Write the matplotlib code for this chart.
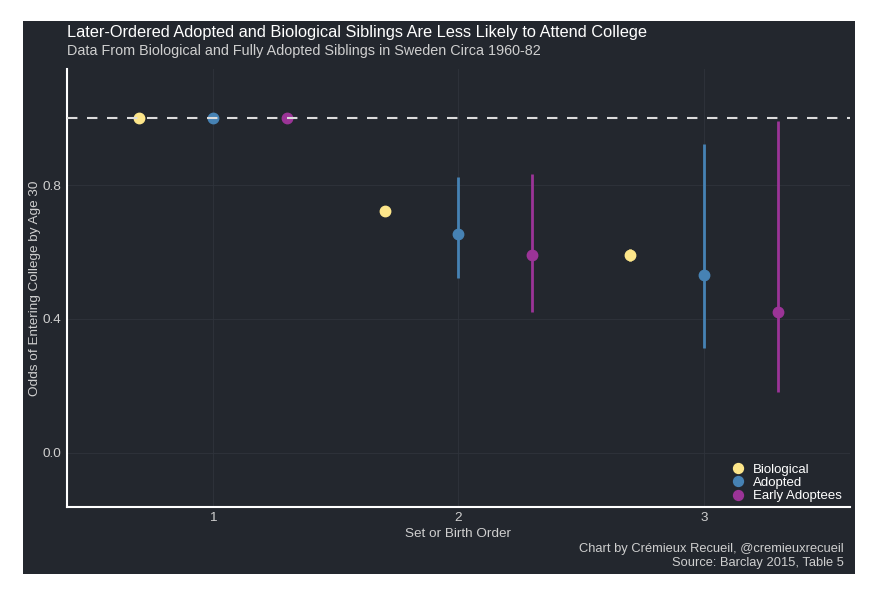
import numpy as np
import matplotlib.pyplot as plt
from matplotlib.patches import Rectangle

plt.rcParams['font.family'] = ['Liberation Sans', 'DejaVu Sans']

# data: odds ratios relative to first-born / first set
orders = [1, 2, 3]
groups = ['Biological', 'Adopted', 'Early Adoptees']
colors = ['#FDE68A', '#4682B4', '#9B3497']
offsets = [-0.3, 0.0, 0.3]

estimate = {
    'Biological':     [1.0, 0.723, 0.591],
    'Adopted':        [1.0, 0.653, 0.531],
    'Early Adoptees': [1.0, 0.591, 0.421],
}
lower = {
    'Biological':     [np.nan, 0.712, 0.573],
    'Adopted':        [np.nan, 0.523, 0.312],
    'Early Adoptees': [np.nan, 0.421, 0.181],
}
upper = {
    'Biological':     [np.nan, 0.732, 0.610],
    'Adopted':        [np.nan, 0.823, 0.923],
    'Early Adoptees': [np.nan, 0.833, 0.993],
}

bg = '#23272e'
grid = '#2f343c'
txt = '#cfcfcf'

fig = plt.figure(figsize=(8.8, 6.05), dpi=100, facecolor='white')
fig.patches.append(Rectangle((23/880, 1-574/605), (855-23)/880, (574-21)/605,
                             transform=fig.transFigure, facecolor=bg, edgecolor='none', zorder=-10))

ax = fig.add_axes([66.7/880, 1-506.7/605, (850-66.7)/880, (506.7-69)/605])
ax.set_facecolor(bg)

for g, c, off in zip(groups, colors, offsets):
    x = np.array(orders) + off
    ax.vlines(x, lower[g], upper[g], color=c, lw=2, zorder=3)
    ax.plot(x, estimate[g], 'o', color=c, ms=7.5, mec=c, zorder=4, label=g, ls='none')

ax.axhline(1.0, color='#dcdcdc', lw=1.5, ls=(0, (5, 4.6)), zorder=5)

ax.set_xlim(0.404, 3.595)
ax.set_ylim(-0.161, 1.147)
ax.set_xticks(orders)
ax.set_yticks([0.0, 0.4, 0.8])
ax.set_yticklabels(['0.0', '0.4', '0.8'])
ax.grid(True, color=grid, lw=0.6, zorder=1)
ax.set_axisbelow(True)

for s in ['top', 'right']:
    ax.spines[s].set_visible(False)
for s in ['left', 'bottom']:
    ax.spines[s].set_color('white')
    ax.spines[s].set_linewidth(1.5)

ax.tick_params(length=0, colors=txt, labelsize=9.7, pad=4)
ax.set_xlabel('Set or Birth Order', color=txt, fontsize=9.7, labelpad=3)
ax.set_ylabel('Odds of Entering College by Age 30', color=txt, fontsize=9.7, labelpad=1)

leg = ax.legend(loc='lower right', bbox_to_anchor=(1.0026, -0.0137), frameon=False,
                fontsize=9.5, handletextpad=0.6, labelspacing=0.08, borderpad=0.3,
                handlelength=1.0, markerscale=0.95)
for t in leg.get_texts():
    t.set_color('white')

fig.text(67/880, 1-32/605, 'Later-Ordered Adopted and Biological Siblings Are Less Likely to Attend College',
         color='white', fontsize=11.8, va='center', ha='left')
fig.text(67/880, 1-51/605, 'Data From Biological and Fully Adopted Siblings in Sweden Circa 1960-82',
         color=txt, fontsize=10.4, va='center', ha='left')
fig.text(844/880, 1-549/605, 'Chart by Crémieux Recueil, @cremieuxrecueil',
         color=txt, fontsize=9.3, va='center', ha='right')
fig.text(844/880, 1-563/605, 'Source: Barclay 2015, Table 5',
         color=txt, fontsize=9.3, va='center', ha='right')

fig.savefig('out.png', dpi=100, facecolor='white')
